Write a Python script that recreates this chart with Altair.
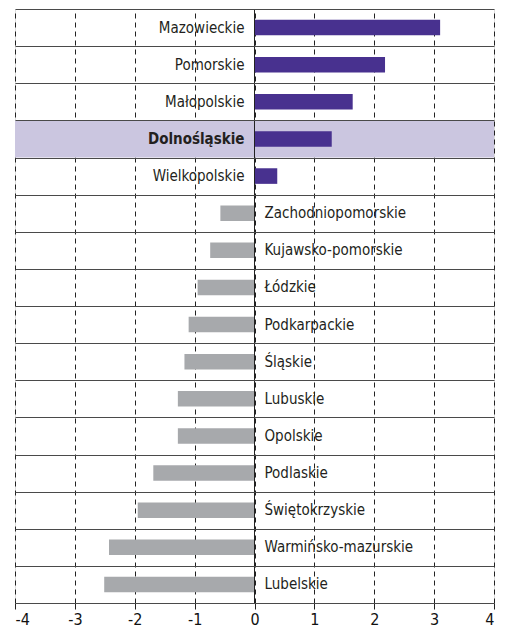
import altair as alt
import pandas as pd

regions = ["Mazowieckie", "Pomorskie", "Małopolskie", "Dolnośląskie", "Wielkopolskie",
           "Zachodniopomorskie", "Kujawsko-pomorskie", "Łódzkie", "Podkarpackie", "Śląskie",
           "Lubuskie", "Opolskie", "Podlaskie", "Świętokrzyskie", "Warmińsko-mazurskie", "Lubelskie"]
values = [3.10, 2.18, 1.64, 1.29, 0.38, -0.57, -0.74, -0.95, -1.10, -1.17,
          -1.28, -1.28, -1.69, -1.95, -2.43, -2.51]
highlight = "Dolnośląskie"
ticks = [-4, -3, -2, -1, 0, 1, 2, 3, 4]

df = pd.DataFrame({"region": regions, "value": values})

FONT = "Liberation Sans Narrow, DejaVu Sans Condensed, sans-serif"

yenc = alt.Y("region:N", sort=regions,
             scale=alt.Scale(paddingInner=0, paddingOuter=0),
             axis=alt.Axis(title=None, labels=False, ticks=False, domain=False, grid=True,
                           tickBand="extent", gridColor="#4a4a4a", gridWidth=1, zindex=1))
xscale = alt.Scale(domain=[-4, 4], nice=False, zero=False)

base = alt.Chart(df)

hl = base.transform_filter(alt.datum.region == highlight).mark_rect(color="#cbc6e0").encode(
    x=alt.X("value:Q", scale=xscale,
            axis=alt.Axis(values=ticks, title=None, grid=True, gridDash=[5, 4], gridColor="#222",
                          gridWidth=1, tickColor="#222", tickSize=6, labelFontSize=16,
                          labelColor="#111", labelPadding=2, domain=False, zindex=0,
                          labelExpr="'' + datum.value", labelFont=FONT)),
    x2=alt.datum(4),
    y=yenc,
).transform_calculate(value="-4")

bars = base.mark_bar(height={"band": 0.42}).encode(
    x=alt.X("value:Q", scale=xscale),
    x2=alt.datum(0),
    y=yenc,
    color=alt.condition("datum.value > 0", alt.value("#48318f"), alt.value("#a7a9ac")),
)

zero = alt.Chart(pd.DataFrame({"z": [0]})).mark_rule(color="#222", strokeWidth=1).encode(
    x=alt.X("z:Q", scale=xscale))

FS = 15
lab_pos = base.transform_filter((alt.datum.value > 0) & (alt.datum.region != highlight)).mark_text(
    align="right", baseline="middle", dx=-10, fontSize=FS, font=FONT, color="#231f20").encode(
    x=alt.datum(0), y=yenc, text="region:N")

lab_hl = base.transform_filter(alt.datum.region == highlight).mark_text(
    align="right", baseline="middle", dx=-10, fontSize=FS, font=FONT, fontWeight="bold",
    color="#231f20").encode(x=alt.datum(0), y=yenc, text="region:N")

lab_neg = base.transform_filter(alt.datum.value < 0).mark_text(
    align="left", baseline="middle", dx=10, fontSize=FS, font=FONT, color="#231f20").encode(
    x=alt.datum(0), y=yenc, text="region:N")

chart = alt.layer(hl, bars, zero, lab_pos, lab_hl, lab_neg).properties(
    width=479, height=594, autosize="none",
    padding={"left": 7, "top": 1, "right": 5, "bottom": 27},
).configure_view(stroke="#4a4a4a", strokeWidth=1).configure(font=FONT)

chart.save("out.html", embed_options={"renderer": "svg", "actions": False})
